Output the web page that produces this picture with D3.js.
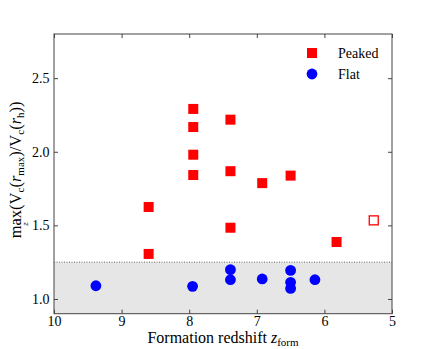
<!DOCTYPE html>
<html>
<head>
<meta charset="utf-8">
<script src="https://cdn.jsdelivr.net/npm/d3@7"></script>
<style>
  body { margin: 0; background: #fff; }
  svg text { font-family: 'Liberation Serif', 'Times New Roman', serif; fill: #000; }
</style>
</head>
<body>
<script>
// values
const peakedZ = [8.60, 8.60, 7.94, 7.94, 7.94, 7.94, 7.39, 7.39, 7.39, 6.92, 6.50, 5.82];
const peakedV = [1.625, 1.306, 2.291, 2.168, 1.980, 1.842, 2.218, 1.868, 1.484, 1.787, 1.838, 1.387];
const openZ = [5.27];
const openV = [1.534];
const flatZ = [9.38, 7.95, 7.39, 7.39, 6.92, 6.50, 6.50, 6.50, 6.14];
const flatV = [1.090, 1.086, 1.199, 1.131, 1.136, 1.194, 1.113, 1.072, 1.131];
const xTicks = [10, 9, 8, 7, 6, 5];
const yTicks = [1.0, 1.5, 2.0, 2.5];
const threshold = 1.25;

const W = 436, H = 349;
const margin = { top: 34, right: 44, bottom: 35.3, left: 54 };
const width = W - margin.left - margin.right;
const height = H - margin.top - margin.bottom;
const serif = "'Liberation Serif', 'Times New Roman', serif";

const svg = d3.select("body").append("svg")
    .attr("width", W)
    .attr("height", H)
    .attr("font-family", serif);

const g = svg.append("g")
    .attr("transform", "translate(" + margin.left + "," + margin.top + ")");

const x = d3.scaleLinear().domain([10, 5]).range([0, width]);
const y = d3.scaleLinear().domain([0.9, 2.8]).range([height, 0]);

// shaded band below threshold
g.append("rect")
    .attr("x", 0)
    .attr("y", y(threshold))
    .attr("width", width)
    .attr("height", y(0.9) - y(threshold))
    .style("fill", "#e6e6e6");

g.append("line")
    .attr("x1", 0).attr("x2", width)
    .attr("y1", y(threshold)).attr("y2", y(threshold))
    .style("stroke", "#444")
    .style("stroke-width", 0.8)
    .style("stroke-dasharray", "1,1.5");

// axes, ticks inward on all four sides
const tickLen = 4;
function styleAxis(sel) {
    sel.attr("font-family", serif).attr("font-size", 14);
    sel.select(".domain").remove();
    sel.selectAll(".tick line").style("stroke", "#444");
}

g.append("g")
    .attr("transform", "translate(0," + height + ")")
    .call(d3.axisBottom(x).tickValues(xTicks).tickFormat(d3.format("d")).tickSize(-tickLen).tickPadding(2.5))
    .call(styleAxis);

g.append("g")
    .call(d3.axisTop(x).tickValues(xTicks).tickFormat("").tickSize(-tickLen))
    .call(styleAxis);

g.append("g")
    .call(d3.axisLeft(y).tickValues(yTicks).tickFormat(d3.format(".1f")).tickSize(-tickLen).tickPadding(4.5))
    .call(styleAxis);

g.append("g")
    .attr("transform", "translate(" + width + ",0)")
    .call(d3.axisRight(y).tickValues(yTicks).tickFormat("").tickSize(-tickLen))
    .call(styleAxis);

// frame
g.append("rect")
    .attr("width", width)
    .attr("height", height)
    .style("fill", "none")
    .style("stroke", "#444")
    .style("stroke-width", 1);

// markers
const sq = 10;
g.selectAll(".peaked")
    .data(d3.zip(peakedZ, peakedV))
    .enter().append("rect")
    .attr("class", "peaked")
    .attr("x", d => x(d[0]) - sq / 2)
    .attr("y", d => y(d[1]) - sq / 2)
    .attr("width", sq)
    .attr("height", sq)
    .style("fill", "#ff0000");

g.selectAll(".open")
    .data(d3.zip(openZ, openV))
    .enter().append("rect")
    .attr("class", "open")
    .attr("x", d => x(d[0]) - 4.5)
    .attr("y", d => y(d[1]) - 4.5)
    .attr("width", 9)
    .attr("height", 9)
    .style("fill", "#fff")
    .style("stroke", "#ff0000")
    .style("stroke-width", 1.3);

g.selectAll(".flat")
    .data(d3.zip(flatZ, flatV))
    .enter().append("circle")
    .attr("class", "flat")
    .attr("cx", d => x(d[0]))
    .attr("cy", d => y(d[1]))
    .attr("r", 5.4)
    .style("fill", "#0000ff");

// legend
const legend = svg.append("g").attr("transform", "translate(312,53)");
legend.append("rect")
    .attr("x", -sq / 2).attr("y", -sq / 2)
    .attr("width", sq).attr("height", sq)
    .style("fill", "#ff0000");
legend.append("circle")
    .attr("cx", 0).attr("cy", 21).attr("r", 5.4)
    .style("fill", "#0000ff");
legend.append("text")
    .attr("x", 26).attr("y", 0).attr("dy", "0.35em")
    .style("font-size", "14px")
    .text("Peaked");
legend.append("text")
    .attr("x", 26).attr("y", 21).attr("dy", "0.35em")
    .style("font-size", "14px")
    .text("Flat");

// x-axis label
const xl = svg.append("text")
    .attr("x", margin.left + width / 2)
    .attr("y", 343)
    .attr("text-anchor", "middle")
    .style("font-size", "16px");
xl.append("tspan").text("Formation redshift ");
xl.append("tspan").style("font-style", "italic").text("z");
xl.append("tspan").attr("dy", 3).style("font-size", "11px").text("form");

// y-axis label (rotated)
const ylg = svg.append("g")
    .attr("transform", "translate(21," + (margin.top + height / 2 - 4) + ") rotate(-90)");
const yl = ylg.append("text")
    .attr("text-anchor", "middle")
    .style("font-size", "16.5px");
yl.append("tspan").text("max(V");
yl.append("tspan").attr("dy", 3).style("font-size", "11px").text("c");
yl.append("tspan").attr("dy", -3).text("(");
yl.append("tspan").style("font-style", "italic").text("r");
yl.append("tspan").attr("dy", 3).style("font-size", "11px").text("max");
yl.append("tspan").attr("dy", -3).text(")/V");
yl.append("tspan").attr("dy", 3).style("font-size", "11px").text("c");
yl.append("tspan").attr("dy", -3).text("(");
yl.append("tspan").style("font-style", "italic").text("r");
yl.append("tspan").attr("dy", 3).style("font-size", "11px").text("h");
yl.append("tspan").attr("dy", -3).text("))");
// limit "z" under "max"
const p0 = yl.node().getStartPositionOfChar(0);
const p2 = yl.node().getEndPositionOfChar(2);
ylg.append("text")
    .attr("x", (p0.x + p2.x) / 2)
    .attr("y", 7)
    .attr("text-anchor", "middle")
    .style("font-size", "9px")
    .style("font-style", "italic")
    .text("z");
</script>
</body>
</html>
